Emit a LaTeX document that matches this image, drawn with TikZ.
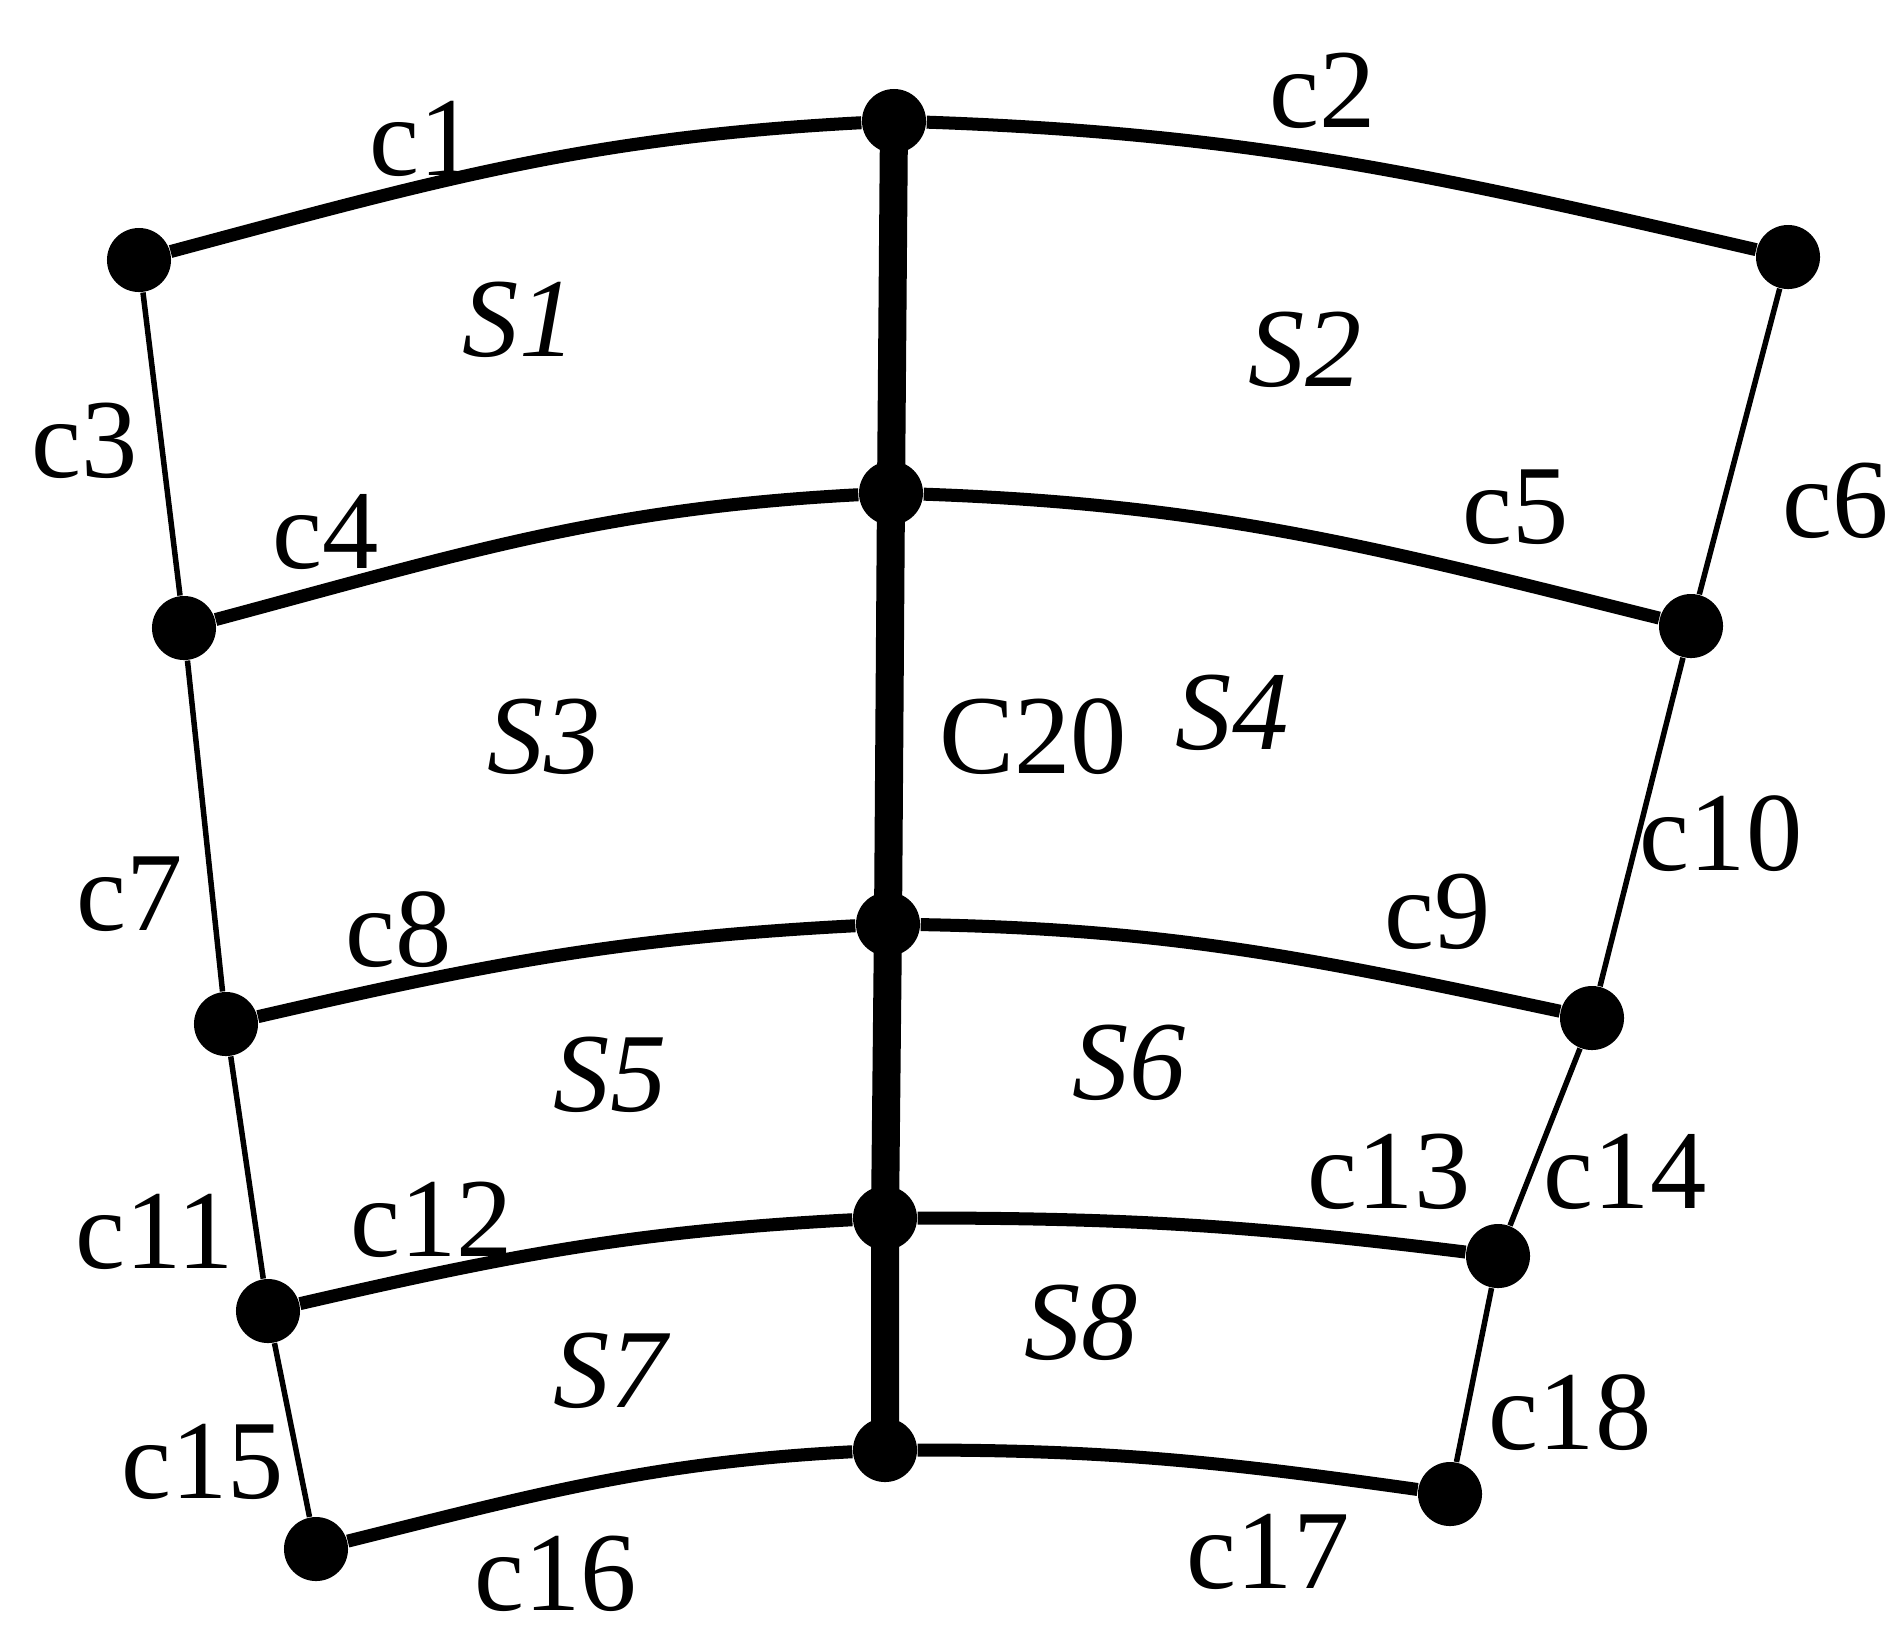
\documentclass[tikz,border=0pt]{standalone}
\usepackage{fontspec}
\setmainfont{Liberation Serif}
\usepackage{tikz}
\usetikzlibrary{positioning}

\begin{document}
\begin{tikzpicture}[
    x=0.01cm, y=-0.01cm,
    dot/.style={circle, fill=black, inner sep=0pt, minimum size=0.64cm},
    curve/.style={line width=0.13cm},
    side/.style={line width=0.055cm},
    spine/.style={line width=0.28cm},
    lbl/.style={font=\fontsize{32}{36}\selectfont, inner sep=0pt},
    slbl/.style={font=\fontsize{32}{36}\selectfont\itshape, inner sep=0pt}
]
    \useasboundingbox (0,0) rectangle (1894,1632);

    % grid points
    \node[dot] (l0) at (139,260) {};
    \node[dot] (m0) at (894,121) {};
    \node[dot] (r0) at (1788,257) {};
    \node[dot] (l1) at (184,628) {};
    \node[dot] (m1) at (891,493) {};
    \node[dot] (r1) at (1691,626) {};
    \node[dot] (l2) at (226,1024) {};
    \node[dot] (m2) at (888,924) {};
    \node[dot] (r2) at (1592,1018) {};
    \node[dot] (l3) at (268,1311) {};
    \node[dot] (m3) at (885,1218) {};
    \node[dot] (r3) at (1498,1256) {};
    \node[dot] (l4) at (316,1549) {};
    \node[dot] (m4) at (885,1450) {};
    \node[dot] (r4) at (1450,1494) {};

    % curved rows
    \draw[curve] (l0) to[out=15, in=183] (m0);
    \draw[curve] (m0) to[out=-2, in=167] (r0);
    \draw[curve] (l1) to[out=15, in=183] (m1);
    \draw[curve] (m1) to[out=-2, in=166] (r1);
    \draw[curve] (l2) to[out=13, in=183] (m2);
    \draw[curve] (m2) to[out=-1, in=168] (r2);
    \draw[curve] (l3) to[out=13, in=183] (m3);
    \draw[curve] (m3) to[out=0, in=173] (r3);
    \draw[curve] (l4) to[out=14, in=183] (m4);
    \draw[curve] (m4) to[out=0, in=172] (r4);

    % sides
    \draw[side] (l0) -- (l1) -- (l2) -- (l3) -- (l4);
    \draw[side] (r0) -- (r1) -- (r2) -- (r3) -- (r4);
    \draw[spine] (m0.center) -- (m1.center) -- (m2.center) -- (m3.center) -- (m4.center);

    % curve labels
    \node[lbl] (c1) at (423,139) {c1};
    \node[lbl] (c2) at (1323,91) {c2};
    \node[lbl] (c3) at (85,441) {c3};
    \node[lbl] (c4) at (326,532) {c4};
    \node[lbl] (c5) at (1516,507) {c5};
    \node[lbl] (c6) at (1836,501) {c6};
    \node[lbl] (c7) at (130,894) {c7};
    \node[lbl] (c8) at (399,930) {c8};
    \node[lbl] (c9) at (1438,912) {c9};
    \node[lbl] (c10) at (1721,834) {c10};
    \node[lbl] (c11) at (155,1232) {c11};
    \node[lbl] (c12) at (432,1220) {c12};
    \node[lbl] (c13) at (1389,1172) {c13};
    \node[lbl] (c14) at (1625,1172) {c14};
    \node[lbl] (c15) at (203,1462) {c15};
    \node[lbl] (c16) at (556,1574) {c16};
    \node[lbl] (c17) at (1268,1552) {c17};
    \node[lbl] (c18) at (1570,1413) {c18};
    \node[lbl] (c20) at (1033,737) {C20};

    % surface labels
    \node[slbl] (s1) at (519,320) {S1};
    \node[slbl] (s2) at (1305,350) {S2};
    \node[slbl] (s3) at (544,737) {S3};
    \node[slbl] (s4) at (1232,713) {S4};
    \node[slbl] (s5) at (610,1075) {S5};
    \node[slbl] (s6) at (1129,1063) {S6};
    \node[slbl] (s7) at (610,1371) {S7};
    \node[slbl] (s8) at (1081,1323) {S8};
\end{tikzpicture}
\end{document}
